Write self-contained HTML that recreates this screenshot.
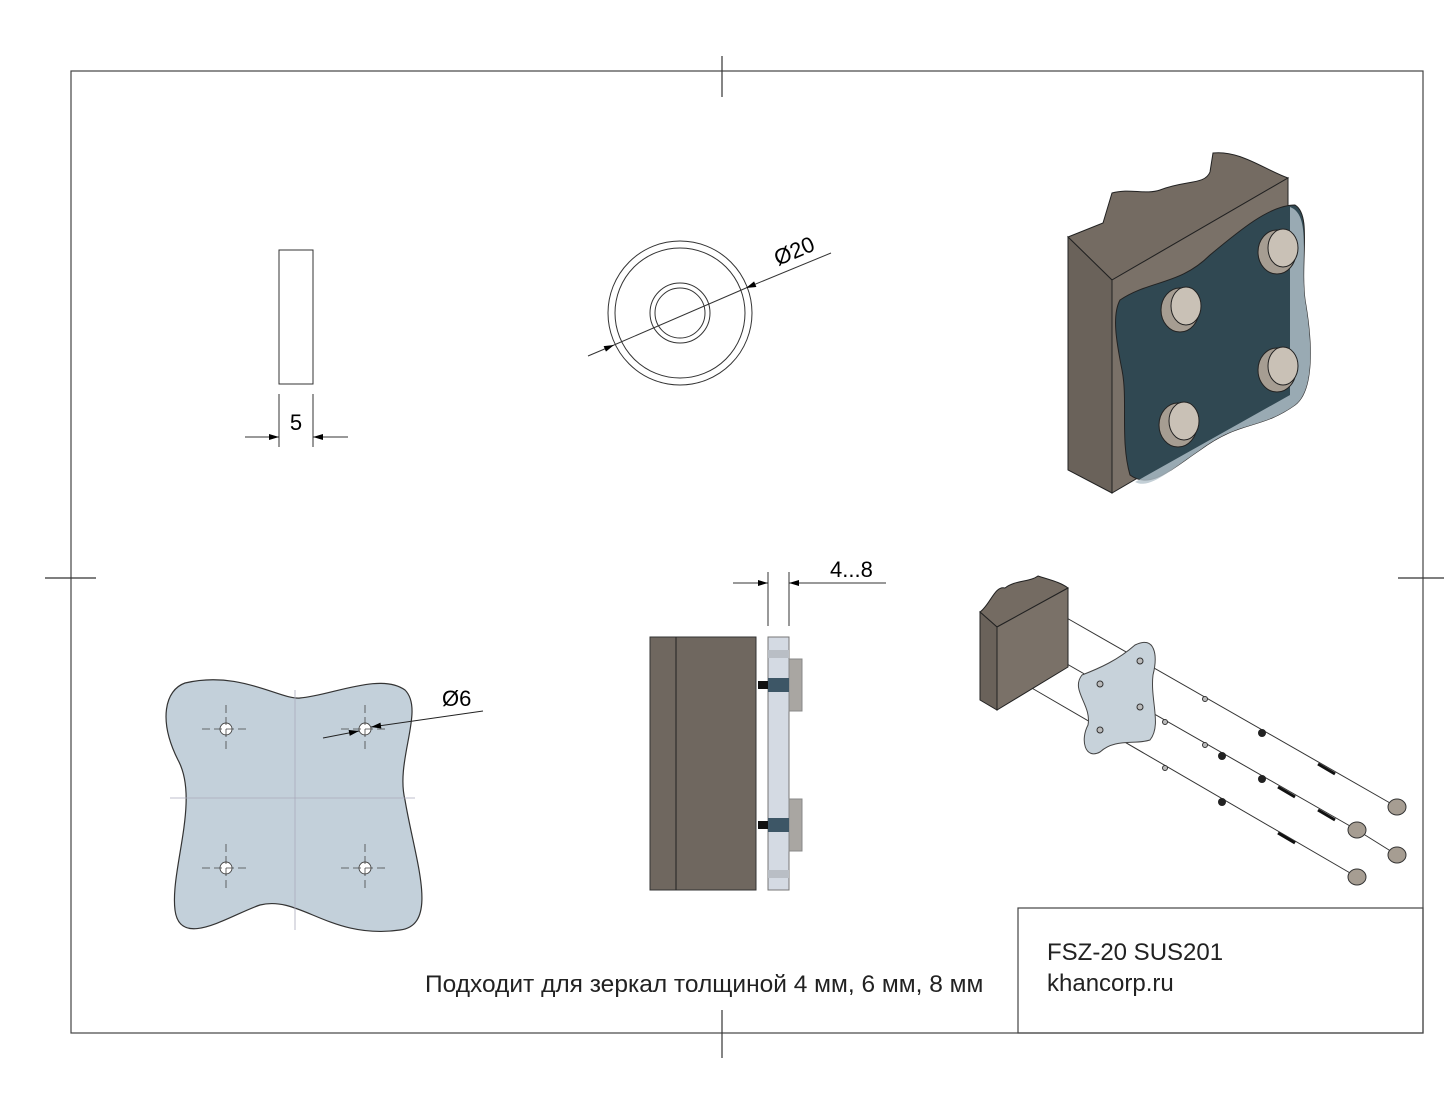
<!DOCTYPE html>
<html><head><meta charset="utf-8"><style>html,body{margin:0;padding:0;background:#fff}svg{display:block}</style></head><body>
<svg width="1444" height="1116" viewBox="0 0 1444 1116" xmlns="http://www.w3.org/2000/svg" font-family="Liberation Sans, sans-serif">
<defs>
<marker id="a" viewBox="0 0 10 6" refX="10" refY="3" markerWidth="14" markerHeight="6" orient="auto" markerUnits="userSpaceOnUse"><path d="M0,0L10,3L0,6z" fill="#000"/></marker>
</defs>
<rect x="71" y="71" width="1352" height="962" fill="none" stroke="#444" stroke-width="1.2"/>
<g stroke="#333" stroke-width="1.2">
<line x1="722" y1="56" x2="722" y2="97"/><line x1="722" y1="1010" x2="722" y2="1058"/>
<line x1="45" y1="578" x2="96" y2="578"/><line x1="1398" y1="578" x2="1444" y2="578"/>
</g>
<rect x="1018" y="908" width="405" height="125" fill="none" stroke="#444" stroke-width="1.2"/>
<text x="1047" y="960" font-size="24" fill="#222">FSZ-20 SUS201</text>
<text x="1047" y="991" font-size="24" fill="#222">khancorp.ru</text>
<text x="425" y="992" font-size="24.5" fill="#222">Подходит для зеркал толщиной 4 мм, 6 мм, 8 мм</text>

<!-- top-left -->
<rect x="279" y="250" width="34" height="134" fill="none" stroke="#333" stroke-width="1"/>
<g stroke="#333" stroke-width="1" fill="none">
<line x1="279" y1="394" x2="279" y2="447"/><line x1="313" y1="394" x2="313" y2="447"/>
<line x1="245" y1="437" x2="279" y2="437" marker-end="url(#a)"/>
<line x1="348" y1="437" x2="313" y2="437" marker-end="url(#a)"/>
</g>
<text x="296" y="430" font-size="22" text-anchor="middle">5</text>

<!-- circle -->
<g fill="none" stroke="#333" stroke-width="1">
<circle cx="680" cy="313" r="72"/><circle cx="680" cy="313" r="65"/>
<circle cx="680" cy="313" r="30"/><circle cx="680" cy="313" r="25"/>
<line x1="588" y1="356" x2="614" y2="345" marker-end="url(#a)"/>
<line x1="614" y1="345" x2="746" y2="288"/>
<line x1="831" y1="253" x2="746" y2="288" marker-end="url(#a)"/>
</g>
<text x="0" y="0" font-size="22" transform="translate(778,266) rotate(-23)">Ø20</text>

<!-- bottom-left glass -->
<path d="M185,683 C240,670 280,700 300,698 C330,696 380,672 405,690 C425,710 395,760 405,800 C415,860 440,925 400,930 C330,940 300,895 260,905 C230,915 180,950 175,910 C170,870 200,800 178,760 C158,720 165,690 185,683Z" fill="#c3d0da" stroke="#333" stroke-width="1.2"/>
<g stroke="#aab" stroke-width="0.8" fill="none">
<line x1="295" y1="690" x2="295" y2="930"/>
<line x1="170" y1="798" x2="415" y2="798"/>
</g>
<g fill="#fff" stroke="#444" stroke-width="0.9">
<circle cx="226" cy="729" r="6"/><circle cx="365" cy="729" r="6"/><circle cx="226" cy="868" r="6"/><circle cx="365" cy="868" r="6"/>
</g>
<g stroke="#444" stroke-width="0.8" stroke-dasharray="8,4">
<line x1="202" y1="729" x2="250" y2="729"/><line x1="226" y1="705" x2="226" y2="753"/>
<line x1="341" y1="729" x2="389" y2="729"/><line x1="365" y1="705" x2="365" y2="753"/>
<line x1="202" y1="868" x2="250" y2="868"/><line x1="226" y1="844" x2="226" y2="892"/>
<line x1="341" y1="868" x2="389" y2="868"/><line x1="365" y1="844" x2="365" y2="892"/>
</g>
<g stroke="#222" stroke-width="1" fill="none">
<line x1="323" y1="738" x2="359" y2="731" marker-end="url(#a)"/>
<line x1="483" y1="711" x2="371" y2="727" marker-end="url(#a)"/>
</g>
<text x="442" y="706" font-size="22">Ø6</text>

<!-- side view -->
<rect x="650" y="637" width="106" height="253" fill="#6f675f" stroke="#333"/>
<line x1="676" y1="637" x2="676" y2="890" stroke="#222"/>
<rect x="768" y="637" width="21" height="253" fill="#d4dae3" stroke="#777"/>
<rect x="768" y="650" width="21" height="8" fill="#b9bec5"/>
<rect x="768" y="870" width="21" height="8" fill="#b9bec5"/>
<rect x="789" y="659" width="13" height="52" fill="#a9a6a2" stroke="#888"/>
<rect x="789" y="799" width="13" height="52" fill="#a9a6a2" stroke="#888"/>
<rect x="758" y="681" width="10" height="8" fill="#111"/><rect x="768" y="678" width="21" height="14" fill="#3d5666"/>
<rect x="758" y="821" width="10" height="8" fill="#111"/><rect x="768" y="818" width="21" height="14" fill="#3d5666"/>
<g stroke="#333" stroke-width="1" fill="none">
<line x1="768" y1="572" x2="768" y2="626"/><line x1="789" y1="572" x2="789" y2="626"/>
<line x1="733" y1="583" x2="768" y2="583" marker-end="url(#a)"/>
<line x1="886" y1="583" x2="789" y2="583" marker-end="url(#a)"/>
</g>
<text x="830" y="577" font-size="22">4...8</text>

<!-- 3D top-right -->
<path d="M1068,237 L1103,223 L1112,193 C1130,188 1145,195 1160,190 C1185,180 1205,185 1210,172 L1213,153 C1240,150 1265,170 1288,178 L1112,280 Z" fill="#746b62" stroke="#222"/>
<path d="M1068,237 L1112,280 L1112,493 L1068,470 Z" fill="#6a625a" stroke="#222"/>
<path d="M1112,280 L1288,178 L1288,390 L1112,493 Z" fill="#7a7168" stroke="#222"/>
<path d="M1120,300 C1150,280 1180,285 1210,255 C1240,230 1270,205 1295,205 C1312,215 1300,260 1305,300 C1312,340 1315,390 1295,405 C1260,430 1240,420 1200,450 C1170,470 1150,490 1130,475 C1120,440 1128,400 1122,370 C1116,340 1112,315 1120,300Z" fill="#304852" stroke="#222"/>
<path d="M1290,207 C1312,215 1300,260 1305,300 C1312,340 1315,390 1295,405 C1260,430 1240,420 1200,450 C1170,470 1150,490 1135,482 L1290,395 Z" fill="#b4c3cc" opacity="0.8"/>
<g fill="#a69d92" stroke="#222">
<ellipse cx="1180" cy="310" rx="19" ry="22"/><ellipse cx="1277" cy="252" rx="19" ry="22"/>
<ellipse cx="1277" cy="370" rx="19" ry="22"/><ellipse cx="1178" cy="425" rx="19" ry="22"/>
</g>
<g fill="#c9c1b6" stroke="#222">
<ellipse cx="1186" cy="306" rx="15" ry="19"/><ellipse cx="1283" cy="248" rx="15" ry="19"/>
<ellipse cx="1283" cy="366" rx="15" ry="19"/><ellipse cx="1184" cy="421" rx="15" ry="19"/>
</g>

<!-- exploded -->
<g stroke="#333" stroke-width="1" fill="none">
<line x1="1065" y1="617" x2="1397" y2="807"/>
<line x1="1025" y1="640" x2="1357" y2="830"/>
<line x1="1357" y1="830" x2="1397" y2="855"/>
<line x1="1030" y1="687" x2="1357" y2="877"/>
</g>
<path d="M980,612 C990,605 995,585 1005,588 C1015,580 1030,582 1038,576 C1050,580 1060,582 1068,588 L997,627Z" fill="#746b62" stroke="#222"/>
<path d="M980,612 L997,627 L997,710 L980,700Z" fill="#6a625a" stroke="#222"/>
<path d="M997,627 L1068,588 L1068,667 L997,710Z" fill="#7a7168" stroke="#222"/>
<path d="M1082,675 C1100,668 1118,660 1135,645 C1155,635 1158,655 1153,675 C1150,700 1162,725 1150,740 C1135,745 1115,738 1100,752 C1085,760 1080,740 1088,725 C1092,705 1070,690 1082,675Z" fill="#c7d2da" stroke="#444"/>
<g stroke="#333" fill="#bbb">
<circle cx="1140" cy="661" r="3"/><circle cx="1100" cy="684" r="3"/><circle cx="1140" cy="707" r="3"/><circle cx="1100" cy="730" r="3"/>
<circle cx="1205" cy="699" r="2.5"/><circle cx="1165" cy="722" r="2.5"/><circle cx="1205" cy="745" r="2.5"/><circle cx="1165" cy="768" r="2.5"/>
</g>
<g fill="#222">
<circle cx="1262" cy="733" r="4"/><circle cx="1222" cy="756" r="4"/><circle cx="1262" cy="779" r="4"/><circle cx="1222" cy="802" r="4"/>
</g>
<g stroke="#111" stroke-width="3">
<line x1="1318" y1="764" x2="1335" y2="774"/><line x1="1278" y1="787" x2="1295" y2="797"/>
<line x1="1318" y1="810" x2="1335" y2="820"/><line x1="1278" y1="833" x2="1295" y2="843"/>
</g>
<g fill="#a69d92" stroke="#333">
<ellipse cx="1397" cy="807" rx="9" ry="8"/><ellipse cx="1357" cy="830" rx="9" ry="8"/>
<ellipse cx="1397" cy="855" rx="9" ry="8"/><ellipse cx="1357" cy="877" rx="9" ry="8"/>
</g>
</svg>
</body></html>
